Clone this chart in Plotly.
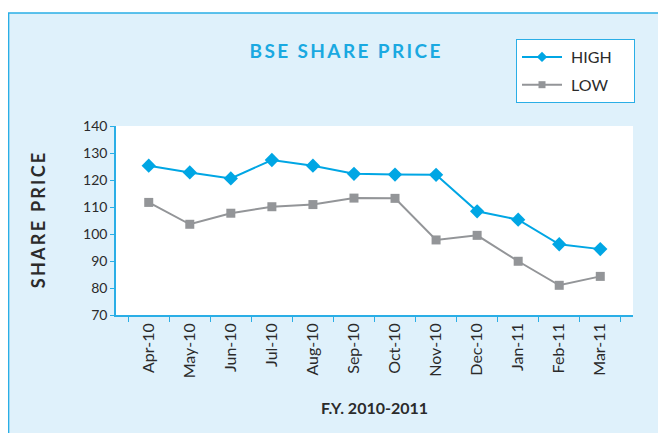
import plotly.graph_objects as go

months = ["Apr-10", "May-10", "Jun-10", "Jul-10", "Aug-10", "Sep-10",
          "Oct-10", "Nov-10", "Dec-10", "Jan-11", "Feb-11", "Mar-11"]
high = [125.3, 122.8, 120.6, 127.4, 125.3, 122.3, 122.0, 121.9, 108.4, 105.3, 96.2, 94.4]
low = [111.7, 103.6, 107.7, 110.1, 110.9, 113.3, 113.2, 97.8, 99.5, 89.9, 81.0, 84.3]
y_ticks = [70, 80, 90, 100, 110, 120, 130, 140]

W, H = 666, 433
OFF = 8  # page body margin
L, R, T, B = 116 - OFF, 666 - 633 + OFF, 126 - OFF, 433 - 315 + OFF
pw, ph = W - L - R, H - T - B

def px_x(p):
    return (p - OFF - L) / pw

def px_y(p):
    return (H - B - (p - OFF)) / ph

BLUE = "#00a6e4"
GREY = "#939598"
EDGE = "#2aaee6"
TXT = "#2b2b2b"
TS = "\u2009"
NB = "\u00a0"

fig = go.Figure()
fig.add_trace(go.Scatter(x=months, y=high, name="HIGH", mode="lines+markers",
                         line=dict(color=BLUE, width=2),
                         marker=dict(symbol="diamond", size=11, color=BLUE),
                         showlegend=False))
fig.add_trace(go.Scatter(x=months, y=low, name="LOW", mode="lines+markers",
                         line=dict(color=GREY, width=2),
                         marker=dict(symbol="square", size=9, color=GREY),
                         showlegend=False))
# legend-only entries with the smaller legend symbols
fig.add_trace(go.Scatter(x=[None], y=[None], name=NB + "HIGH" + NB * 4, mode="lines+markers",
                         line=dict(color=BLUE, width=2),
                         marker=dict(symbol="diamond", size=8, color=BLUE),
                         legendgroup="a"))
fig.add_trace(go.Scatter(x=[None], y=[None], name=NB + "LOW" + NB * 4, mode="lines+markers",
                         line=dict(color=GREY, width=2),
                         marker=dict(symbol="square", size=7, color=GREY),
                         legendgroup="b"))

fig.add_shape(type="rect", xref="paper", yref="paper",
              x0=px_x(8.6), x1=px_x(720), y0=px_y(13), y1=px_y(480),
              fillcolor="#dff1fb", line=dict(color=EDGE, width=1.5), layer="below")
fig.add_shape(type="rect", xref="paper", yref="paper",
              x0=0, x1=1, y0=0, y1=1,
              fillcolor="white", line=dict(width=0), layer="below")

fig.update_layout(
    width=W, height=H,
    margin=dict(l=L, r=R, t=T, b=B),
    paper_bgcolor="white", plot_bgcolor="white",
    font=dict(family="Lato, Open Sans, sans-serif", color=TXT, size=13),
    title=dict(text="<b>" + TS.join("BSE SHARE PRICE") + "</b>",
               x=px_x(345), xanchor="center", xref="paper",
               y=1 - (51 - OFF) / H, yanchor="middle",
               font=dict(size=19, color="#1aa9e1", family="Lato, sans-serif")),
    legend=dict(x=px_x(516), xanchor="left", y=px_y(39), yanchor="top",
                bgcolor="white", bordercolor=EDGE, borderwidth=1,
                font=dict(size=16, color=TXT), tracegroupgap=4,
                traceorder="grouped", itemwidth=40),
    showlegend=True,
)
fig.update_xaxes(type="category", tickangle=-90, showgrid=False,
                 showline=True, linecolor=EDGE, linewidth=1.5,
                 ticks="outside", tickcolor=EDGE, ticklen=5, tickson="boundaries",
                 tickfont=dict(size=16, color=TXT),
                 title=dict(text="<b>F.Y. 2010-2011</b>", standoff=26,
                            font=dict(size=16, color=TXT, family="Lato, sans-serif")))
fig.update_yaxes(range=[70, 140], tickvals=y_ticks, showgrid=False,
                 showline=True, linecolor=EDGE, linewidth=1.5,
                 ticks="outside", tickcolor=EDGE, ticklen=4,
                 tickfont=dict(size=14, color=TXT), zeroline=False,
                 title=dict(text="<b>" + TS.join("SHARE PRICE") + "</b>", standoff=33,
                            font=dict(size=18, color=TXT, family="Lato, sans-serif")))

fig.write_html("out.html")
